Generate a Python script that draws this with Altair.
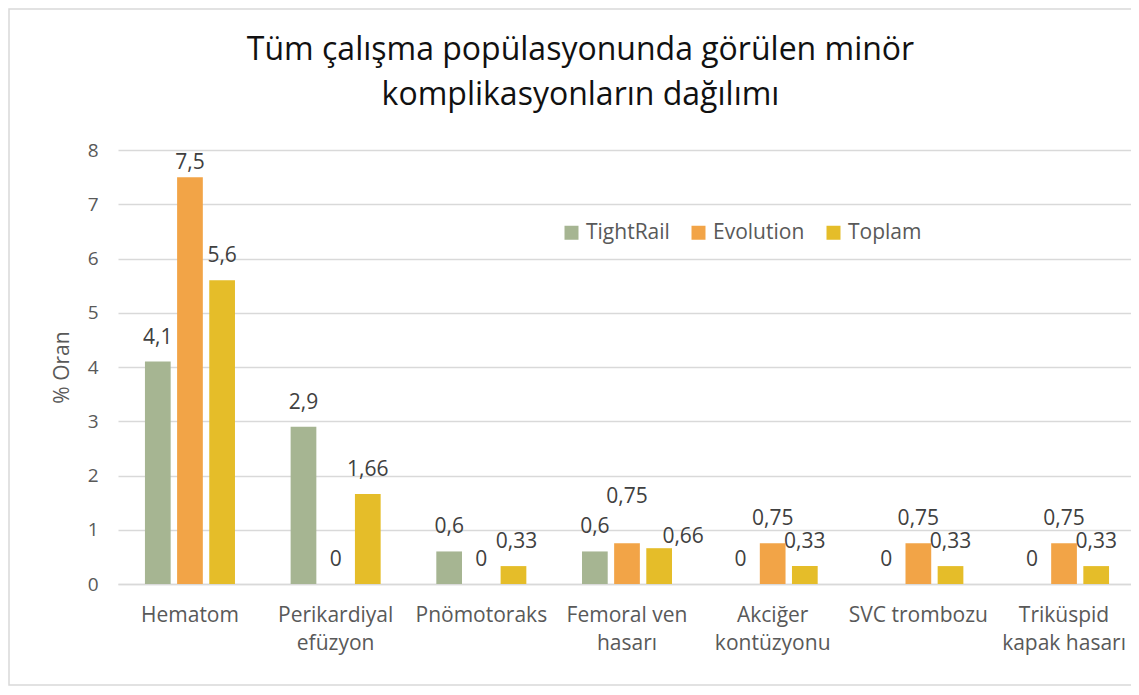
import altair as alt
import pandas as pd

categories = ["Hematom", "Perikardiyal\nefüzyon", "Pnömotoraks", "Femoral ven\nhasarı",
              "Akciğer\nkontüzyonu", "SVC trombozu", "Triküspid\nkapak hasarı"]
series = ["TightRail", "Evolution", "Toplam"]
tightrail = [4.1, 2.9, 0.6, 0.6, 0, 0, 0]
evolution = [7.5, 0, 0, 0.75, 0.75, 0.75, 0.75]
toplam = [5.6, 1.66, 0.33, 0.66, 0.33, 0.33, 0.33]
colors = ["#A6B592", "#F2A447", "#E5BD29"]

# label nudges (pixels) to mimic the hand-placed data labels of the original
nudges = {(0, "Evolution"): (0, 10), (3, "Evolution"): (0, -22),
          (3, "Toplam"): (24, 13), (2, "Toplam"): (3, 0)}

rows = []
for s, vals in zip(series, [tightrail, evolution, toplam]):
    for i, (c, v) in enumerate(zip(categories, vals)):
        lab = ("%g" % v).replace(".", ",")
        ndx, ndy = nudges.get((i, s), (0, 0))
        rows.append({"kategori": c, "seri": s, "deger": v, "etiket": lab,
                     "ndx": ndx, "ndy": ndy})
df = pd.DataFrame(rows)

FONT = "Open Sans"
W, H = 1013, 434
TXT = "#595959"
FS = 21

x = alt.X("kategori:N", sort=categories, title=None,
          scale=alt.Scale(paddingInner=0.382, paddingOuter=0.185, range=[0, 1018]),
          axis=alt.Axis(labelExpr="split(datum.label, '\\n')", labelAngle=0,
                        labelFontSize=FS, labelColor=TXT, labelFont=FONT,
                        labelLineHeight=28, labelPadding=20, ticks=False,
                        domainColor="#D9D9D9", domainWidth=1.3, labelBaseline="top"))
xoff = alt.XOffset("seri:N", sort=series, scale=alt.Scale(paddingInner=0.2))

base = alt.Chart(df)

bars = base.mark_bar().encode(
    x=x, xOffset=xoff,
    y=alt.Y("deger:Q", title="% Oran",
            scale=alt.Scale(domain=[0, 8]),
            axis=alt.Axis(values=list(range(0, 9)), format="d", domain=False, ticks=False,
                          gridColor="#D9D9D9", gridWidth=1.3,
                          labelFontSize=19, labelColor=TXT, labelFont=FONT,
                          labelPadding=20, titleFontSize=FS, titleColor=TXT,
                          titleFont=FONT, titleFontWeight="normal", titlePadding=15)),
    color=alt.Color("seri:N", sort=series,
                    scale=alt.Scale(domain=series, range=colors),
                    legend=alt.Legend(title=None, orient="none", legendX=443, legendY=72,
                                      direction="horizontal", symbolType="square",
                                      symbolSize=196, symbolStrokeWidth=0,
                                      labelFontSize=FS, labelColor=TXT, labelFont=FONT,
                                      columnPadding=18, labelOffset=4)),
)

label_layers = []
combos = sorted(set(zip(df["ndx"], df["ndy"])))
for ndx, ndy in combos:
    label_layers.append(
        base.transform_filter((alt.datum.ndx == int(ndx)) & (alt.datum.ndy == int(ndy)))
        .mark_text(baseline="middle", dy=-24 + int(ndy), dx=int(ndx), fontSize=FS,
                   font=FONT, color="#404040")
        .encode(x=x, xOffset=xoff, y="deger:Q", text="etiket:N")
    )

frame = alt.Chart(pd.DataFrame({"a": [0]})).mark_rect(
    fill=None, stroke="#D9D9D9", strokeWidth=1.5, clip=False).encode(
    x=alt.value(-109), x2=alt.value(W + 40), y=alt.value(-141), y2=alt.value(H + 101))

chart = alt.layer(frame, bars, *label_layers).properties(
    width=W, height=H,
    autosize=alt.AutoSizeParams(type="none"),
    padding={"left": 110, "top": 142, "right": 0, "bottom": 103},
    title=alt.TitleParams(text=["Tüm çalışma popülasyonunda görülen minör",
                                "komplikasyonların dağılımı"],
                          fontSize=32, font=FONT, fontWeight="normal", color="#111111",
                          anchor="middle", dx=-44, offset=0, dy=104, lineHeight=45),
).configure_view(stroke=None)

chart.save("out.html", embed_options={"renderer": "svg", "actions": False})
